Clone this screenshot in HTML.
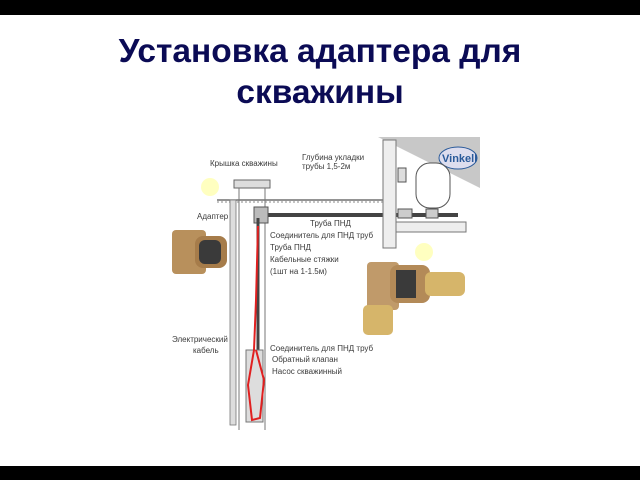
<!DOCTYPE html>
<html><head><meta charset="utf-8"><style>
html,body{margin:0;padding:0;background:#fff}
body{width:640px;height:480px;position:relative;overflow:hidden;font-family:"Liberation Sans","DejaVu Sans",sans-serif}
.bar{position:absolute;left:0;width:640px;background:#000}
.t{position:absolute;left:0;width:640px;text-align:center;color:#0b0b55;font-weight:bold;font-size:33.5px;line-height:33px}
</style></head><body>
<div class="bar" style="top:0;height:15px"></div>
<div class="bar" style="top:466px;height:14px"></div>
<div class="t" style="top:35px">Установка адаптера для</div>
<div class="t" style="top:76px">скважины</div>
<svg width="640" height="480" style="position:absolute;left:0;top:0" font-family="Liberation Sans, DejaVu Sans, sans-serif" font-size="8" fill="#3a3a3a">
<polygon points="378,137 480,137 480,188" fill="#c8c8c8"/>
<ellipse cx="458" cy="158" rx="19" ry="11" fill="#dde" stroke="#2a5a9a" stroke-width="1"/>
<text x="442" y="162" font-size="11" font-weight="bold" fill="#2a5a9a">Vinkell</text>
<!-- ground -->
<line x1="217" y1="200" x2="383" y2="200" stroke="#555" stroke-width="1.2"/>
<line x1="217" y1="202" x2="383" y2="202" stroke="#888" stroke-width="1" stroke-dasharray="2,2"/>
<!-- well wall -->
<rect x="230" y="200" width="6" height="225" fill="#ddd" stroke="#777" stroke-width="0.8"/>
<!-- casing -->
<rect x="234" y="180" width="36" height="8" fill="#ddd" stroke="#666"/>
<line x1="239" y1="188" x2="239" y2="430" stroke="#777"/>
<line x1="265" y1="188" x2="265" y2="430" stroke="#777"/>
<!-- pipe -->
<rect x="258" y="213" width="200" height="4" fill="#444"/>
<rect x="254" y="207" width="14" height="16" fill="#bbb" stroke="#555"/>
<line x1="258" y1="218" x2="258" y2="350" stroke="#444" stroke-width="3"/>
<!-- pump -->
<rect x="246" y="350" width="17" height="72" fill="#ddd" stroke="#777"/>
<!-- red cable -->
<path d="M258,226 L256,300 L254,350 L248,385 L252,420 L260,418 L264,380 L256,350" fill="none" stroke="#e02020" stroke-width="2"/>
<!-- house wall -->
<rect x="383" y="140" width="13" height="108" fill="#eee" stroke="#777"/>
<rect x="396" y="222" width="70" height="10" fill="#eee" stroke="#777"/>
<rect x="398" y="168" width="8" height="14" fill="#ddd" stroke="#555"/>
<rect x="416" y="163" width="34" height="45" rx="14" fill="#fff" stroke="#555"/>
<rect x="398" y="209" width="14" height="9" fill="#ccc" stroke="#555"/>
<rect x="426" y="209" width="12" height="9" fill="#ccc" stroke="#555"/>
<!-- photos -->
<rect x="172" y="230" width="34" height="44" rx="4" fill="#b8905c"/>
<rect x="195" y="236" width="32" height="32" rx="8" fill="#a67c4a"/>
<rect x="199" y="240" width="22" height="24" rx="6" fill="#3a3a3a"/>
<rect x="367" y="262" width="32" height="48" rx="4" fill="#c09a6a"/>
<rect x="390" y="265" width="40" height="38" rx="8" fill="#b38a58"/>
<rect x="396" y="270" width="20" height="28" fill="#3a3a3a"/>
<rect x="425" y="272" width="40" height="24" rx="6" fill="#d6b56a"/>
<rect x="363" y="305" width="30" height="30" rx="5" fill="#d6b56a"/>
<circle cx="210" cy="187" r="9" fill="#ffffc0"/>
<circle cx="424" cy="252" r="9" fill="#ffffc0"/>
<!-- labels -->
<text x="210" y="166">Крышка скважины</text>
<text x="302" y="160">Глубина укладки</text>
<text x="302" y="169">трубы 1,5-2м</text>
<text x="197" y="219">Адаптер</text>
<text x="310" y="226">Труба ПНД</text>
<text x="270" y="238">Соединитель для ПНД труб</text>
<text x="270" y="250">Труба ПНД</text>
<text x="270" y="262">Кабельные стяжки</text>
<text x="270" y="274">(1шт на 1-1.5м)</text>
<text x="172" y="342">Электрический</text>
<text x="193" y="353">кабель</text>
<text x="270" y="351">Соединитель для ПНД труб</text>
<text x="272" y="362">Обратный клапан</text>
<text x="272" y="374">Насос скважинный</text>
</svg>
</body></html>
